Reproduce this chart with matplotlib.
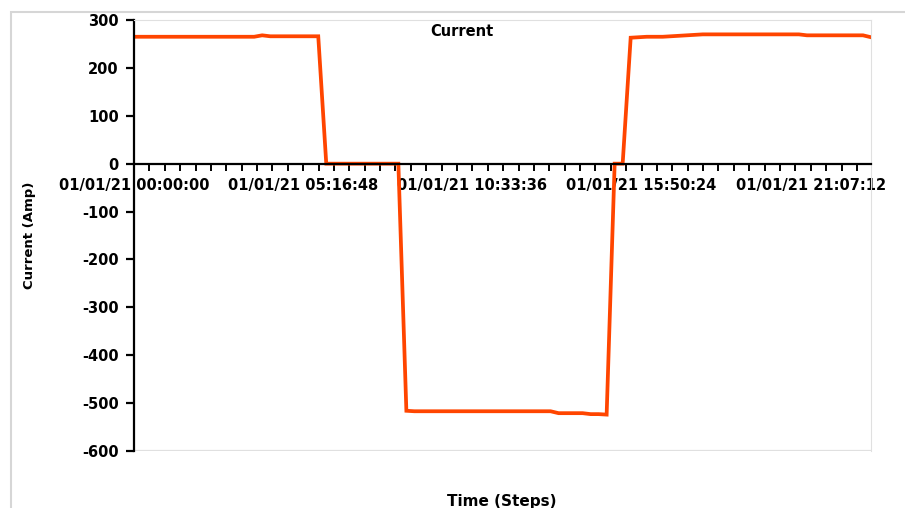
import pandas as pd
import numpy as np
import matplotlib
matplotlib.use("Agg")
import matplotlib.pyplot as plt
import matplotlib.dates as mdates
from matplotlib.patches import Rectangle

# valores (passos de 15 min, 01/01/21 00:00 -> 23:00)
start = "2021-01-01 00:00:00"
step = "15min"
current_amp = (
    [265] * 16 + [268] + [266] * 7          # 00:00 - 05:45
    + [0] * 10                              # 06:00 - 08:15
    + [-516] + [-517] * 18                  # 08:30 - 13:00
    + [-521] * 4 + [-523] * 2 + [-524]      # 13:15 - 14:45
    + [0] * 2                               # 15:00 - 15:15
    + [263, 264, 265, 265, 265, 266, 267, 268, 269]
    + [270] * 13                            # 17:45 - 20:45
    + [268] * 8 + [264]                     # 21:00 - 23:00
)
times = pd.date_range(start, periods=len(current_amp), freq=step)

label_every = pd.Timedelta(seconds=19008)   # 05:16:48
minor_every = pd.Timedelta(seconds=1728)

plt.rcParams["font.family"] = "DejaVu Sans"
plt.rcParams["font.weight"] = "bold"
plt.rcParams["axes.unicode_minus"] = False

fig = plt.figure(figsize=(9.05, 5.08), dpi=100)
ax = fig.add_axes([134/905, 1-451/508, 737/905, 431/508])

ax.plot(times, current_amp, color="#ff4500", lw=2.7, solid_joinstyle="miter")

ax.set_xlim(times[0], times[-1])
ax.set_ylim(-600, 300)
ax.set_yticks(np.arange(-600, 301, 100))

major = pd.date_range(start, times[-1], freq=label_every)
minor = pd.date_range(start, times[-1], freq=minor_every)
ax.set_xticks(mdates.date2num(major))
ax.set_xticks(mdates.date2num(minor), minor=True)
ax.xaxis.set_major_formatter(mdates.DateFormatter("%m/%d/%y %H:%M:%S"))

ax.spines["bottom"].set_position(("data", 0))
ax.spines["bottom"].set_linewidth(1.6)
ax.spines["left"].set_linewidth(1.6)
ax.spines["top"].set_color("#e0e0e0")
ax.spines["right"].set_color("#e0e0e0")
ax.axhline(-600, color="#e0e0e0", lw=1.6, zorder=0)

ax.tick_params(axis="x", which="both", length=5, width=1.4, pad=5, labelsize=10.5)
ax.tick_params(axis="y", length=6, width=1.6, pad=5, labelsize=10.5)

ax.set_ylabel("Current (Amp)", fontsize=9.5, fontweight="bold")
ax.yaxis.set_label_coords(-0.133, 0.5)

fig.text(462/905, 1-31/508, "Current", ha="center", va="center", fontsize=10.5, fontweight="bold")
fig.text(502/905, 1-494/508, "Time (Steps)", ha="center", va="top", fontsize=11, fontweight="bold")

# moldura externa cinza
fig.patches.append(Rectangle((11/905, -0.2), 1.2, 1.2 - 12/508, transform=fig.transFigure,
                             fill=False, edgecolor="#d6d6d6", lw=1.5))

fig.savefig("out.png", dpi=100)
